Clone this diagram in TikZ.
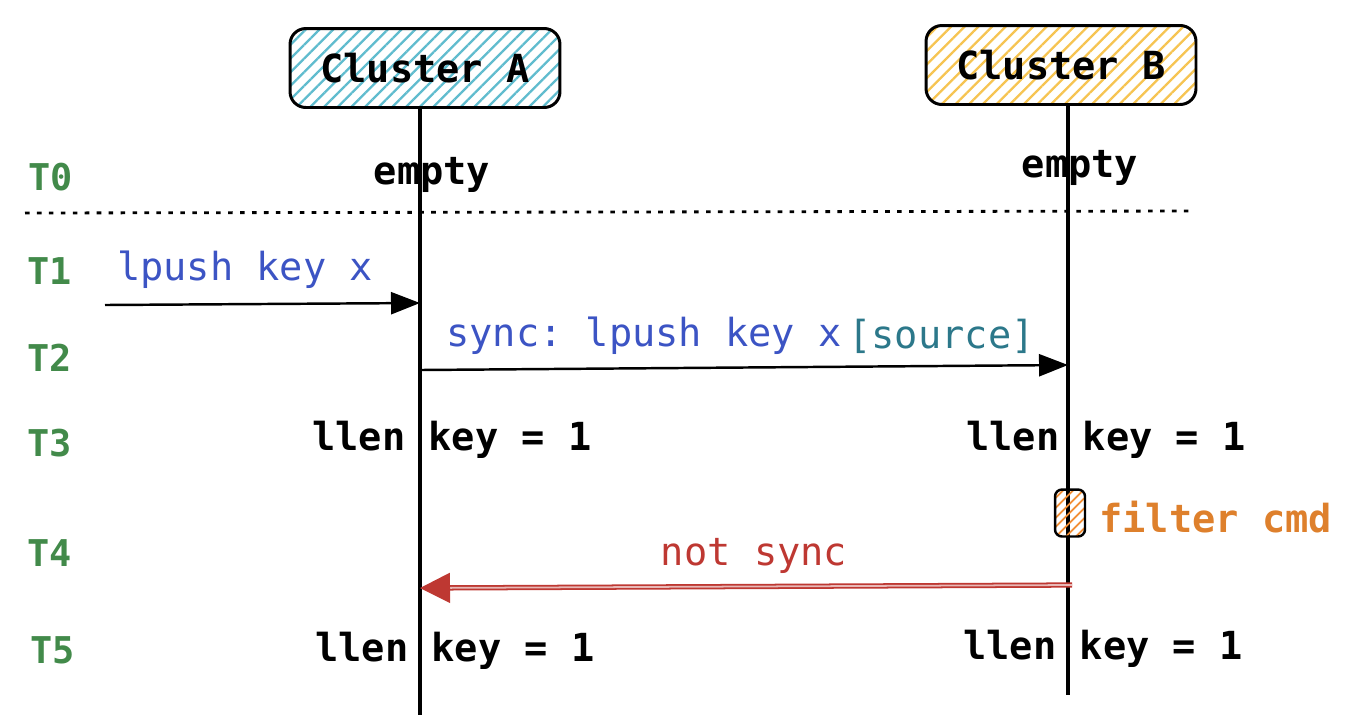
\documentclass[tikz,border=0pt]{standalone}
\usepackage{fontspec}
\setmonofont{DejaVu Sans Mono}
\usetikzlibrary{positioning, arrows.meta, patterns.meta}
\definecolor{hatchblue}{RGB}{96,188,206}
\definecolor{hatchyellow}{RGB}{246,196,82}
\definecolor{hatchorange}{RGB}{242,142,52}
\definecolor{tgreen}{RGB}{66,138,74}
\definecolor{cmdblue}{RGB}{60,84,196}
\definecolor{srcteal}{RGB}{44,120,138}
\definecolor{nsred}{RGB}{190,56,50}
\definecolor{filtorange}{RGB}{222,128,44}
\begin{document}
\begin{tikzpicture}[
  x=0.02cm, y=-0.02cm,
  font=\ttfamily\fontsize{22}{26}\selectfont,
  cluster/.style={draw=black, line width=1.7pt, rounded corners=9pt, minimum width=5.4cm, minimum height=1.58cm, font=\ttfamily\bfseries\fontsize{22}{26}\selectfont},
  tlabel/.style={text=tgreen, font=\ttfamily\bfseries\fontsize{21}{25}\selectfont},
  state/.style={font=\ttfamily\bfseries\fontsize{22}{26}\selectfont},
  life/.style={line width=1.8pt},
  msg/.style={line width=1.4pt, -{Triangle[length=0.58cm, width=0.44cm]}}
]
\useasboundingbox (0,0) rectangle (1354,718);
\node[cluster, pattern={Lines[angle=45, distance=5.5pt, line width=1.3pt]}, pattern color=hatchblue] (ca) at (425,68) {};
\node[cluster, pattern={Lines[angle=45, distance=5.5pt, line width=1.3pt]}, pattern color=hatchyellow] (cb) at (1061,65) {};
\node[font=\ttfamily\bfseries\fontsize{22}{26}\selectfont] (catext) at (ca) {Cluster A};
\node[font=\ttfamily\bfseries\fontsize{22}{26}\selectfont] (cbtext) at (cb) {Cluster B};

\node[tlabel] (t0) at (51,177) {T0};
\node[tlabel] (t1) at (50,271) {T1};
\node[tlabel] (t2) at (50,358) {T2};
\node[tlabel] (t3) at (50,443) {T3};
\node[tlabel] (t4) at (50,553) {T4};
\node[tlabel] (t5) at (53,650) {T5};

\node[state] (ea) at (432,175) {empty};
\node[state] (eb) at (1080,168) {empty};
\node[state] (la3) at (452,440) {llen key = 1};
\node[state] (lb3) at (1106,440) {llen key = 1};
\node[state] (la5) at (455,651) {llen key = 1};
\node[state] (lb5) at (1103,649) {llen key = 1};

\coordinate (aend) at (420,715);
\coordinate (bend) at (1068,695);
\draw[life] (ca.south -| aend) -- (aend);
\draw[life] (cb.south -| bend) -- (bend);

\coordinate (dotl) at (25,213);
\coordinate (dotr) at (1190,211);
\draw[line width=1.6pt, dash pattern=on 2.6pt off 4.2pt] (dotl) -- (dotr);

\node[text=cmdblue] (push) at (245,270) {lpush key x};
\coordinate (client) at (105,305);
\coordinate (arecv) at (420,303);
\draw[msg] (client) -- (arecv);

\node[text=cmdblue, anchor=west] (sync) at (440,336) {sync: lpush key x};
\node[text=srcteal, anchor=west, inner xsep=0pt] (src) at (sync.east) {[source]};
\coordinate (asend) at (420,370);
\coordinate (brecv) at (1068,365);
\draw[msg] (asend) -- (brecv);

\node[draw=black, line width=1.4pt, rounded corners=4pt, minimum width=0.6cm, minimum height=0.94cm, pattern={Lines[angle=45, distance=4pt, line width=1.1pt]}, pattern color=hatchorange] (filt) at (1070,513) {};
\node[text=filtorange, font=\ttfamily\bfseries\fontsize{22}{26}\selectfont, anchor=west] (filttext) at (1093,517) {filter cmd};

\node[text=nsred] (nsync) at (754,556) {not sync};
\coordinate (bsend) at (1072,585);
\coordinate (arecv2) at (420,588);
\draw[draw=nsred, double=nsred!35, double distance=1pt, line width=1pt, -{Triangle[length=0.6cm, width=0.6cm, fill=nsred]}] (bsend) -- (arecv2);
\end{tikzpicture}
\end{document}
